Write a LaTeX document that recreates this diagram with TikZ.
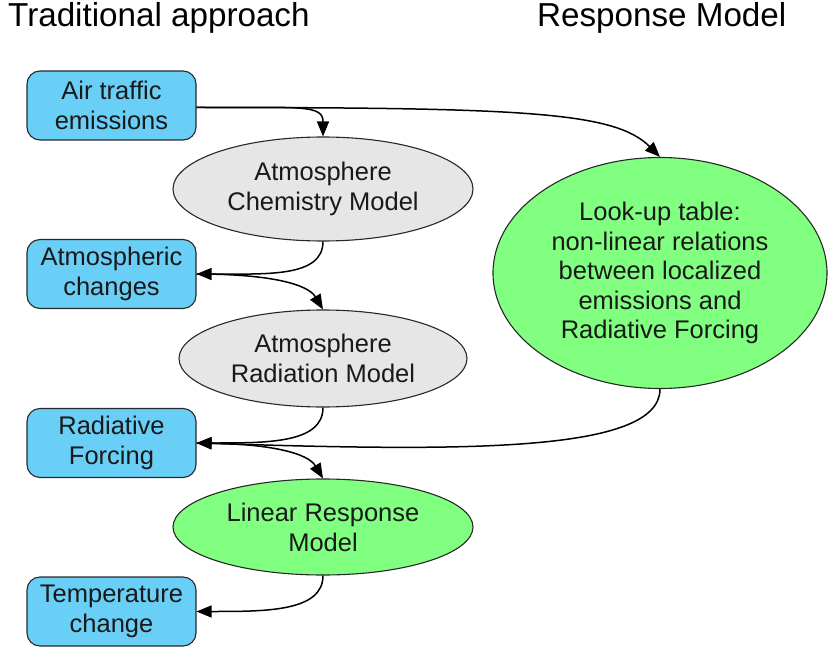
\documentclass[tikz,border=0pt]{standalone}
\usepackage{fontspec}
\setmainfont{Liberation Sans}
\usetikzlibrary{shapes.geometric,arrows.meta}
\definecolor{boxblue}{RGB}{106,207,246}
\definecolor{modelgreen}{RGB}{128,255,128}
\definecolor{modelgray}{RGB}{230,230,230}
\definecolor{edgegray}{RGB}{40,40,40}
\begin{document}
\begin{tikzpicture}[x=1pt,y=-1pt,
  txt/.style={align=center,font=\fontsize{25.5}{30}\selectfont,text=black!90},
  quantity/.style={txt,draw=edgegray,line width=1.1pt,fill=boxblue,rounded corners=13pt,
    minimum width=169pt,minimum height=69pt,inner sep=0pt},
  model/.style={txt,ellipse,draw=edgegray,line width=1.1pt,inner sep=0pt},
  flow/.style={line width=1.5pt,-{Triangle[length=15pt,width=12pt]}},
  heading/.style={font=\fontsize{33.2}{38}\selectfont,inner sep=0pt}
]
\useasboundingbox (0,0) rectangle (828,650);

% column headings
\node[heading,anchor=base west] (thead) at (8,27) {Traditional approach};
\node[heading,anchor=base west] (rhead) at (537,27) {Response Model};

% physical quantities
\node[quantity] (air)  at (111.5,105.5) {Air traffic\\emissions};
\node[quantity] (atm)  at (111.5,274)   {Atmospheric\\changes};
\node[quantity] (rf)   at (111.5,443)   {Radiative\\Forcing};
\node[quantity] (temp) at (111.5,611.5) {Temperature\\change};

% models
\node[model,fill=modelgray,minimum width=300pt,minimum height=104pt] (chem) at (323,189) {Atmosphere\\Chemistry Model};
\node[model,fill=modelgray,minimum width=288pt,minimum height=97pt] (rad) at (323,358.5) {Atmosphere\\Radiation Model};
\node[model,fill=modelgreen,minimum width=300pt,minimum height=96pt] (lin) at (323,527) {Linear Response\\Model};
\node[model,fill=modelgreen,minimum width=334pt,minimum height=231pt,font=\fontsize{25.5}{29.5}\selectfont] (lut) at (660,273)
  {Look-up table:\\non-linear relations\\between localized\\emissions and\\Radiative Forcing};

% connectors
\draw[flow] ([yshift=-2pt]air.east) .. controls +(105,0) and +(0,-32) .. (chem.north);
\draw[flow] ([yshift=-2pt]air.east) .. controls +(330,0) and +(-45,-45) .. (lut.north);
\draw[flow] (chem.south) .. controls +(0,36) and +(70,0) .. (atm.east);
\draw[flow] (atm.east) .. controls +(75,0) and +(-15,-25) .. (rad.north);
\draw[flow] (rad.south) .. controls +(0,36) and +(70,0) .. (rf.east);
\draw[flow] (lut.south) .. controls +(0,65) and +(260,8) .. (rf.east);
\draw[flow] (rf.east) .. controls +(75,0) and +(-15,-25) .. (lin.north);
\draw[flow] (lin.south) .. controls +(0,36) and +(70,0) .. (temp.east);
\end{tikzpicture}
\end{document}
